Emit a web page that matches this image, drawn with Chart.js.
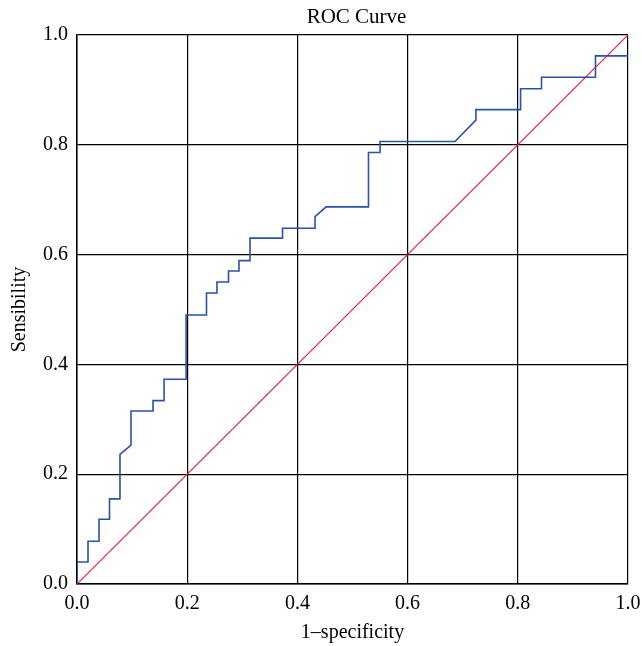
<!DOCTYPE html>
<html>
<head>
<meta charset="utf-8">
<script src="https://cdn.jsdelivr.net/npm/chart.js@4/dist/chart.umd.min.js"></script>
<style>
  html, body { margin: 0; padding: 0; background: #ffffff; }
  canvas { display: block; }
</style>
</head>
<body>
<canvas id="c" width="642" height="646"></canvas>
<script>
// ROC curve points (1 - specificity, sensitivity)
const fprValues = [0, 0, 0.02, 0.02, 0.04, 0.04, 0.059, 0.059, 0.078, 0.078, 0.098, 0.098, 0.138, 0.138, 0.158, 0.158, 0.198, 0.198, 0.235, 0.235, 0.254, 0.254, 0.275, 0.275, 0.294, 0.294, 0.314, 0.314, 0.373, 0.373, 0.432, 0.432, 0.452, 0.529, 0.529, 0.55, 0.55, 0.686, 0.724, 0.724, 0.805, 0.805, 0.843, 0.843, 0.941, 0.941, 1.0];
const tprValues = [0, 0.04, 0.04, 0.078, 0.078, 0.118, 0.118, 0.155, 0.155, 0.236, 0.253, 0.315, 0.315, 0.334, 0.334, 0.373, 0.373, 0.49, 0.49, 0.53, 0.53, 0.55, 0.55, 0.57, 0.57, 0.589, 0.589, 0.63, 0.63, 0.648, 0.648, 0.669, 0.687, 0.687, 0.786, 0.786, 0.806, 0.806, 0.845, 0.864, 0.864, 0.902, 0.902, 0.923, 0.923, 0.962, 0.962];
// Reference (chance) diagonal
const diagX = [0, 1];
const diagY = [0, 1];
const tickValues = [0, 0.2, 0.4, 0.6, 0.8, 1.0];
const chartTitle = 'ROC Curve';
const xTitle = '1\u2013specificity';
const yTitle = 'Sensibility';

const FONT = '"Liberation Serif", "DejaVu Serif", serif';

const rocPoints = fprValues.map((x, i) => ({ x: x, y: tprValues[i] }));
const diagPoints = diagX.map((x, i) => ({ x: x, y: diagY[i] }));

const titlePlugin = {
  id: 'centeredTitle',
  afterDraw(chart) {
    const ctx = chart.ctx;
    const a = chart.chartArea;
    ctx.save();
    ctx.font = '21px ' + FONT;
    ctx.fillStyle = '#000';
    ctx.textAlign = 'center';
    ctx.textBaseline = 'middle';
    ctx.fillText(chartTitle, (a.left + a.right) / 2 + 4, 17);
    ctx.restore();
  }
};

const axisCommon = {
  type: 'linear',
  min: 0,
  max: 1,
  afterBuildTicks(scale) { scale.ticks = tickValues.map(v => ({ value: v })); },
  grid: { color: '#000', lineWidth: 1.2, drawTicks: false, tickLength: 0 },
  border: { display: true, color: '#000', width: 1.5 },
};

new Chart(document.getElementById('c'), {
  type: 'scatter',
  data: {
    datasets: [
      {
        data: rocPoints,
        showLine: true,
        borderColor: '#2a52a6',
        borderWidth: 1.6,
        pointRadius: 0,
        tension: 0,
        fill: false,
      },
      {
        data: diagPoints,
        showLine: true,
        borderColor: '#e8213a',
        borderWidth: 1.2,
        pointRadius: 0,
        tension: 0,
        fill: false,
      }
    ]
  },
  options: {
    responsive: false,
    animation: false,
    devicePixelRatio: 1,
    layout: { padding: { top: 35, right: 14, left: 0, bottom: 0 } },
    plugins: {
      legend: { display: false },
      tooltip: { enabled: false },
      title: { display: false }
    },
    scales: {
      x: Object.assign({}, axisCommon, {
        position: 'bottom',
        afterFit(scale) { scale.height = 62; scale.paddingLeft = 0; scale.paddingRight = 0; },
        ticks: {
          color: '#000',
          font: { family: FONT, size: 20 },
          padding: 8,
          maxRotation: 0,
          callback: v => Number(v).toFixed(1)
        },
        title: {
          display: true,
          text: xTitle,
          color: '#000',
          font: { family: FONT, size: 20 },
          padding: { top: 0, bottom: 1 }
        }
      }),
      y: Object.assign({}, axisCommon, {
        position: 'left',
        afterFit(scale) { scale.width = 77; scale.paddingTop = 0; scale.paddingBottom = 0; },
        ticks: {
          color: '#000',
          font: { family: FONT, size: 20 },
          padding: 9,
          callback: v => Number(v).toFixed(1)
        },
        title: {
          display: true,
          text: yTitle,
          color: '#000',
          font: { family: FONT, size: 20 },
          padding: { top: 8, bottom: 0 }
        }
      })
    }
  },
  plugins: [titlePlugin]
});
</script>
</body>
</html>
